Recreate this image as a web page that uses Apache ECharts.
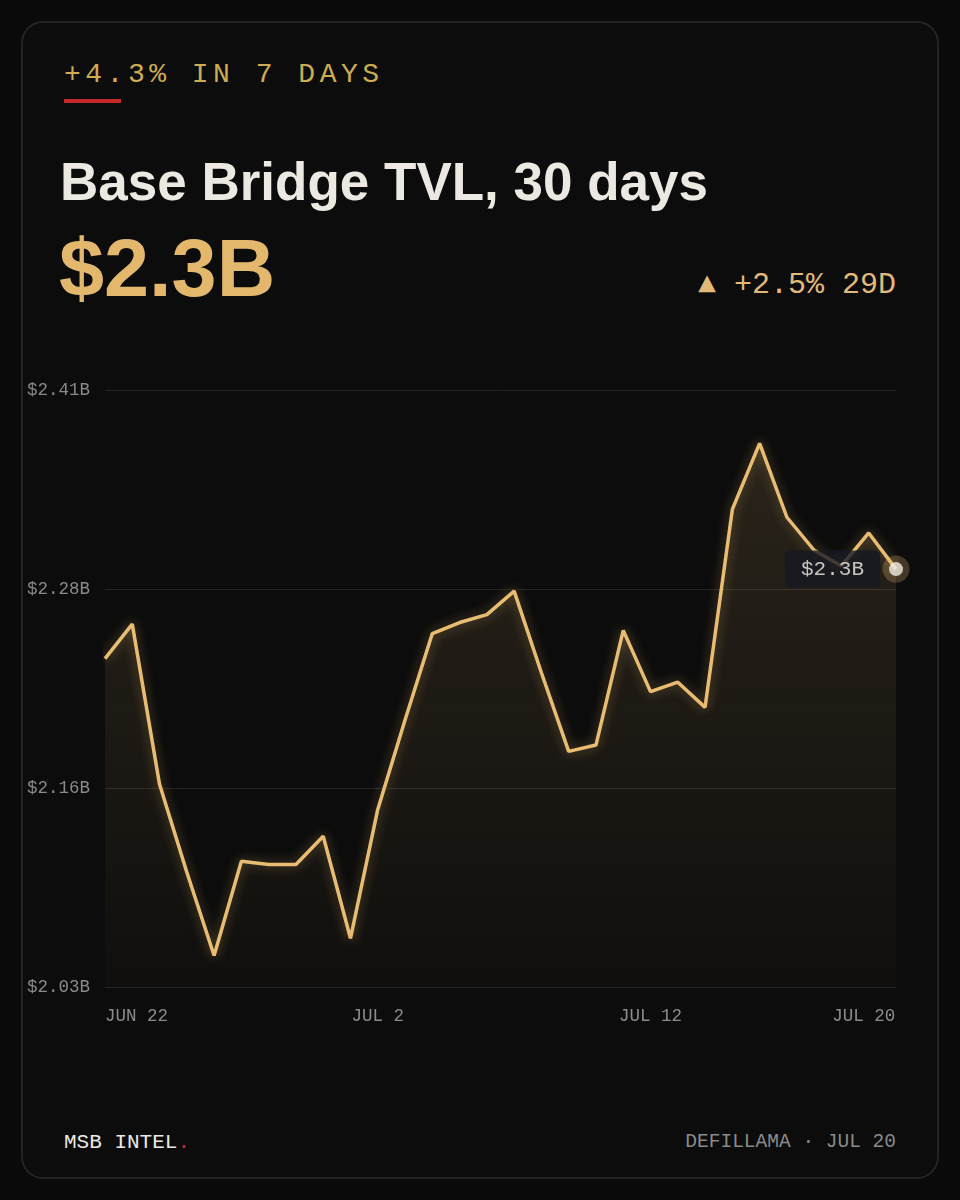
<!DOCTYPE html>
<html>
<head>
<meta charset="utf-8">
<script src="https://cdn.jsdelivr.net/npm/echarts@6/dist/echarts.min.js"></script>
<style>
    html, body { margin: 0; padding: 0; background: #0a0a0a; }
    body { width: 960px; height: 1200px; position: relative; overflow: hidden; }
    .card { position: absolute; left: 21px; top: 21px; width: 914px; height: 1154px; border: 2px solid #232323; border-radius: 22px; background: #0c0c0c; }
    .mono { font-family: "Liberation Mono", "DejaVu Sans Mono", monospace; }
    .abs { position: absolute; white-space: nowrap; }
    #kicker { left: 64px; top: 61px; font-size: 28px; line-height: 28px; letter-spacing: 4.5px; color: #cdac52; }
    #bar { left: 64px; top: 99px; width: 57px; height: 4px; background: #c42a2a; }
    #title { left: 60px; top: 155px; font-family: "Liberation Sans", Arial, sans-serif; font-weight: bold; font-size: 53px; line-height: 53px; color: #ece9e3; }
    #big { left: 59px; top: 228px; font-family: "Liberation Sans", Arial, sans-serif; font-weight: bold; font-size: 81px; line-height: 81px; color: #e3b76c; }
    #change { right: 64px; top: 270px; font-size: 30px; line-height: 30px; color: #e2bb78; }
    #brand { left: 64px; top: 1132px; font-size: 21px; line-height: 21px; color: #ece9e3; }
    #brand span { color: #c42a2a; }
    #source { right: 64px; top: 1133px; font-size: 19.5px; line-height: 19.5px; color: #8a8a8a; }
    #edge { position: absolute; left: 0; top: 0; width: 960px; height: 1200px; }
</style>
</head>
<body>
<div class="card"></div>
<div id="kicker" class="abs mono">+4.3% IN 7 DAYS</div>
<div id="bar" class="abs"></div>
<div id="title" class="abs">Base Bridge TVL, 30 days</div>
<div id="big" class="abs">$2.3B</div>
<div id="change" class="abs mono">▲ +2.5% 29D</div>
<div id="brand" class="abs mono">MSB INTEL<span>.</span></div>
<div id="source" class="abs mono">DEFILLAMA · JUL 20</div>
<div id="edge"></div>
<script>
// 30 daily points, Jun 22 -> Jul 21
var dates = ['JUN 22', 'JUN 23', 'JUN 24', 'JUN 25', 'JUN 26', 'JUN 27', 'JUN 28', 'JUN 29', 'JUN 30', 'JUL 1',
    'JUL 2', 'JUL 3', 'JUL 4', 'JUL 5', 'JUL 6', 'JUL 7', 'JUL 8', 'JUL 9', 'JUL 10', 'JUL 11',
    'JUL 12', 'JUL 13', 'JUL 14', 'JUL 15', 'JUL 16', 'JUL 17', 'JUL 18', 'JUL 19', 'JUL 20', 'JUL 21'];
// TVL in billions of USD
var tvl = [2.239, 2.261, 2.159, 2.103, 2.050, 2.110, 2.108, 2.108, 2.126, 2.061,
    2.143, 2.200, 2.255, 2.262, 2.267, 2.282, 2.230, 2.180, 2.184, 2.257,
    2.218, 2.224, 2.208, 2.334, 2.376, 2.329, 2.308, 2.298, 2.319, 2.296];
var shownTicks = [0, 10, 20, 28];
var yMin = 2.03, yMax = 2.41;

var chartDom = document.getElementById('edge');
var myChart = echarts.init(chartDom, null, { renderer: 'canvas' });
var option;

var mono = '"Liberation Mono", "DejaVu Sans Mono", monospace';
var last = tvl.length - 1;

option = {
    backgroundColor: 'transparent',
    animation: false,
    grid: { left: 105, right: 64, top: 390, bottom: 213 },
    xAxis: {
        type: 'category',
        data: dates,
        boundaryGap: false,
        axisLine: { show: false },
        axisTick: { show: false },
        splitLine: { show: false },
        axisLabel: {
            interval: function (idx) { return shownTicks.indexOf(idx) >= 0; },
            formatter: function (val, idx) {
                // last shown label is nudged left so it ends at the plot edge
                return idx === 28 ? '{e|' + val + '}' : val;
            },
            rich: { e: { padding: [0, 10, 0, 0], fontFamily: mono, fontSize: 17.5, color: '#8c8c8c' } },
            alignMinLabel: 'left',
            margin: 20,
            fontFamily: mono,
            fontSize: 17.5,
            color: '#8c8c8c'
        }
    },
    yAxis: {
        type: 'value',
        min: yMin,
        max: yMax,
        interval: (yMax - yMin) / 3,
        axisLine: { show: false },
        axisTick: { show: false },
        splitLine: { lineStyle: { color: '#242424', width: 1 } },
        axisLabel: {
            align: 'left',
            margin: 78,
            fontFamily: mono,
            fontSize: 17.5,
            color: '#8a8a8a',
            formatter: function (v) { return '$' + v.toFixed(2) + 'B'; }
        }
    },
    series: [
        {
            name: 'TVL',
            type: 'line',
            data: tvl,
            symbol: 'none',
            z: 2,
            lineStyle: {
                color: '#e8bd72',
                width: 3.5,
                shadowBlur: 12,
                shadowColor: 'rgba(232, 189, 114, 0.45)'
            },
            areaStyle: {
                color: new echarts.graphic.LinearGradient(0, 0, 0, 1, [
                    { offset: 0, color: 'rgba(229, 184, 113, 0.2)' },
                    { offset: 1, color: 'rgba(229, 184, 113, 0.03)' }
                ])
            }
        },
        {
            name: 'halo',
            type: 'scatter',
            data: [[dates[last], tvl[last]]],
            symbolSize: 27,
            z: 5,
            itemStyle: { color: 'rgba(229, 184, 113, 0.32)' },
            silent: true
        },
        {
            name: 'last',
            type: 'scatter',
            data: [[dates[last], tvl[last]]],
            symbolSize: 14,
            z: 6,
            zlevel: 1,
            itemStyle: { color: '#f2ede4' },
            label: {
                show: true,
                position: 'left',
                distance: 9,
                formatter: '$' + tvl[last].toFixed(1) + 'B',
                fontFamily: mono,
                fontSize: 21,
                color: '#f2ede4',
                backgroundColor: '#151922',
                borderRadius: 5,
                padding: [8, 16, 8, 16]
            }
        }
    ]
};

option && myChart.setOption(option);
</script>
</body>
</html>
